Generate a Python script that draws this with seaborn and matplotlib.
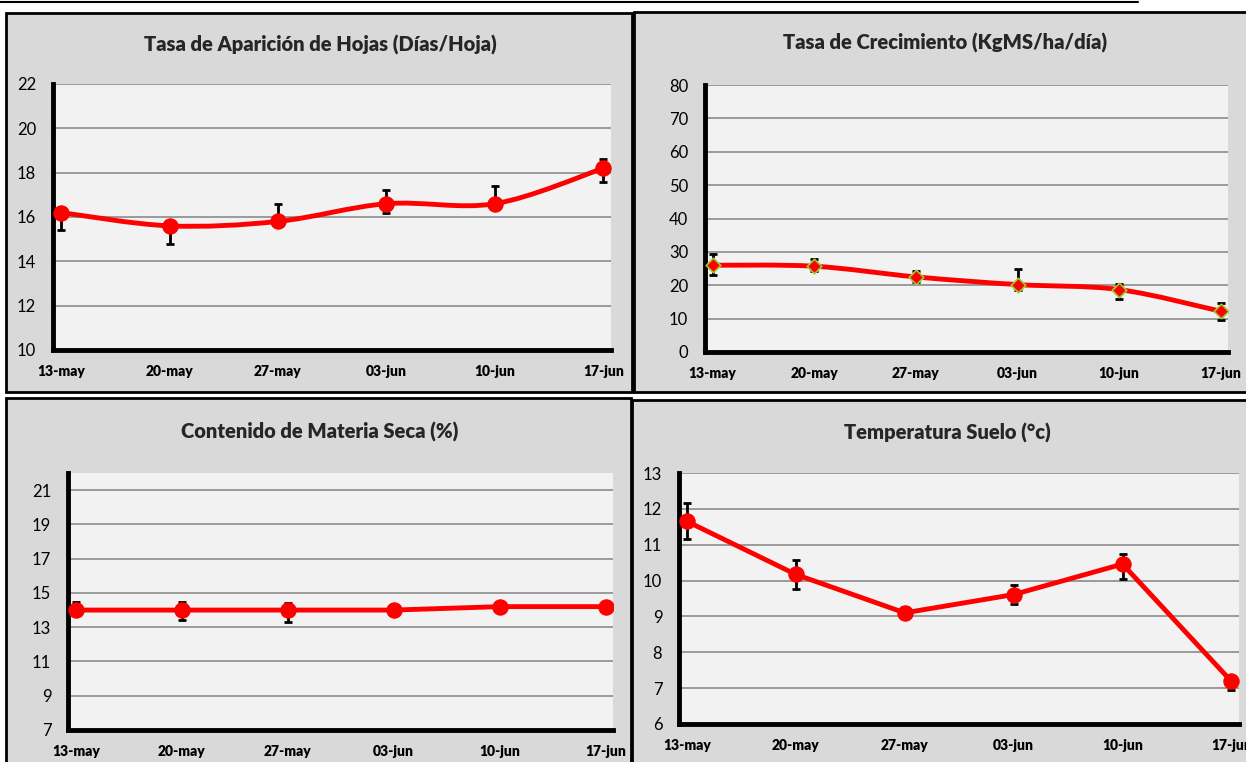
import numpy as np
import matplotlib
matplotlib.use("Agg")
import matplotlib.pyplot as plt
import seaborn as sns
from matplotlib.patches import Rectangle, PathPatch
from matplotlib.path import Path
from matplotlib.lines import Line2D

# Data
fechas = ["13-may", "20-may", "27-may", "03-jun", "10-jun", "17-jun"]

hojas = [16.2, 15.6, 15.8, 16.6, 16.6, 18.2]
hojas_inf = [15.4, 14.8, 15.7, 16.2, 16.5, 17.6]
hojas_sup = [16.4, 15.8, 16.6, 17.2, 17.4, 18.6]

crec = [26.0, 25.7, 22.5, 20.2, 18.7, 12.2]
crec_inf = [23.2, 24.3, 21.0, 18.5, 16.0, 9.7]
crec_sup = [29.3, 27.9, 24.3, 24.8, 20.3, 14.8]

ms = [14.0, 14.0, 14.0, 14.0, 14.2, 14.2]
ms_inf = [13.7, 13.4, 13.3, 14.0, 14.2, 14.2]
ms_sup = [14.5, 14.5, 14.4, 14.0, 14.2, 14.2]

temp = [11.65, 10.17, 9.10, 9.61, 10.46, 7.19]
temp_inf = [11.16, 9.77, 8.96, 9.36, 10.03, 6.96]
temp_sup = [12.15, 10.58, 9.26, 9.87, 10.74, 7.35]

sns.set_theme(style="white")
plt.rcParams["font.family"] = ["Lato", "DejaVu Sans"]

W, H = 1246, 762
fig = plt.figure(figsize=(W / 100, H / 100), dpi=100)
fig.patch.set_facecolor("white")

RED = "#ff0000"
GRID = "#9a9a9a"
BOLD = "heavy"


def fx(px):
    return px / W


def fy(py):
    return 1 - py / H


def panel_box(l, t, r, b):
    fig.patches.append(Rectangle((fx(l), fy(b)), fx(r - l), (b - t) / H,
                                 transform=fig.transFigure, facecolor="#d9d9d9",
                                 edgecolor="black", lw=2, zorder=-2))


def add_ax(l, t, r, b):
    ax = fig.add_axes([fx(l), fy(b), fx(r - l), (b - t) / H])
    ax.set_facecolor("#f2f2f2")
    return ax


def smooth_path(xs, ys):
    # Excel-style smoothed line: cubic Bezier through the data points
    pts = np.column_stack([np.asarray(xs, float), np.asarray(ys, float)])
    n = len(pts)
    verts = [pts[0]]
    codes = [Path.MOVETO]
    for i in range(n - 1):
        p0 = pts[max(i - 1, 0)]
        p1 = pts[i]
        p2 = pts[i + 1]
        p3 = pts[min(i + 2, n - 1)]
        verts += [p1 + (p2 - p0) / 6, p2 - (p3 - p1) / 6, p2]
        codes += [Path.CURVE4] * 3
    return Path(verts, codes)


def style_ax(ax, ylim, yticks, ticks_out=False):
    x = np.arange(len(fechas))
    ax.set_xlim(-0.074, 5.07)
    ax.set_ylim(*ylim)
    ax.set_yticks(yticks)
    ax.set_xticks(x)
    ax.set_xticklabels(fechas, fontsize=10, fontweight=BOLD)
    ax.tick_params(axis="y", labelsize=12, length=0, pad=12, labelcolor="black")
    ax.tick_params(axis="x", length=0, pad=11, labelcolor="black")
    ax.grid(axis="y", color=GRID, lw=1.4)
    ax.grid(axis="x", visible=False)
    for s in ["top", "right"]:
        ax.spines[s].set_visible(False)
    for s in ["left", "bottom"]:
        ax.spines[s].set_color("black")
        ax.spines[s].set_linewidth(3.5)
    if ticks_out:
        ax.tick_params(axis="y", length=4, width=2, color="black", direction="out", pad=8)
        ax.set_xticks(x - 0.07, minor=True)
        ax.tick_params(axis="x", which="minor", length=5, width=2, color="black", direction="out")
    ax.set_axisbelow(True)


def draw_errors(ax, vals, lo, hi):
    x = np.arange(len(vals))
    v = np.asarray(vals)
    err = [v - np.asarray(lo), np.asarray(hi) - v]
    ax.errorbar(x, v, yerr=err, fmt="none", ecolor="black", elinewidth=2,
                capsize=3.2, capthick=2, zorder=3)


# Boxes
panel_box(6, 13, 632, 392)
panel_box(634, 12, 1252, 392)
panel_box(6, 398, 631, 772)
panel_box(632, 400, 1252, 772)
fig.lines.append(Line2D([0, fx(1138)], [fy(1.5), fy(1.5)], transform=fig.transFigure,
                        color="black", lw=1.5, zorder=-1))

x = np.arange(len(fechas))
TFS = 14.5

# 1) Tasa de aparición de hojas
ax1 = add_ax(53, 84, 611, 350)
style_ax(ax1, (10, 22), range(10, 23, 2))
ax1.add_patch(PathPatch(smooth_path(x, hojas), fill=False, edgecolor=RED, lw=3.5, zorder=2,
                        capstyle="round"))
draw_errors(ax1, hojas, hojas_inf, hojas_sup)
sns.scatterplot(x=x, y=hojas, ax=ax1, color=RED, s=120, marker="o", edgecolor=RED, zorder=4)
fig.text(fx(320), fy(45), "Tasa de Aparición de Hojas (Días/Hoja)", ha="center", va="center",
         fontsize=TFS, fontweight=BOLD)

# 2) Tasa de crecimiento
ax2 = add_ax(705, 85, 1228, 352)
style_ax(ax2, (0, 80), range(0, 81, 10))
ax2.add_patch(PathPatch(smooth_path(x, crec), fill=False, edgecolor=RED, lw=3.5, zorder=2,
                        capstyle="round"))
draw_errors(ax2, crec, crec_inf, crec_sup)
sns.scatterplot(x=x, y=crec, ax=ax2, color=RED, s=55, marker="D", edgecolor="#9acd32",
                linewidth=1.2, zorder=4)
fig.text(fx(945), fy(43), "Tasa de Crecimiento (KgMS/ha/día)", ha="center", va="center",
         fontsize=TFS, fontweight=BOLD)

# 3) Contenido de materia seca
ax3 = add_ax(68, 473, 613, 730)
style_ax(ax3, (7, 22), range(7, 22, 2))
draw_errors(ax3, ms, ms_inf, ms_sup)
sns.lineplot(x=x, y=ms, ax=ax3, color=RED, lw=3.5, zorder=2)
sns.scatterplot(x=x, y=ms, ax=ax3, color=RED, s=120, marker="o", edgecolor=RED, zorder=4)
fig.text(fx(320), fy(432), "Contenido de Materia Seca (%)", ha="center", va="center",
         fontsize=TFS, fontweight=BOLD)

# 4) Temperatura suelo
ax4 = add_ax(679, 473, 1239, 724)
style_ax(ax4, (6, 13), range(6, 14), ticks_out=True)
draw_errors(ax4, temp, temp_inf, temp_sup)
sns.lineplot(x=x, y=temp, ax=ax4, color=RED, lw=3.5, zorder=2)
sns.scatterplot(x=x, y=temp, ax=ax4, color=RED, s=120, marker="o", edgecolor=RED, zorder=4)
fig.text(fx(947), fy(433), "Temperatura Suelo (°c)", ha="center", va="center",
         fontsize=TFS, fontweight=BOLD)

fig.savefig("out.png", dpi=100, facecolor="white")
